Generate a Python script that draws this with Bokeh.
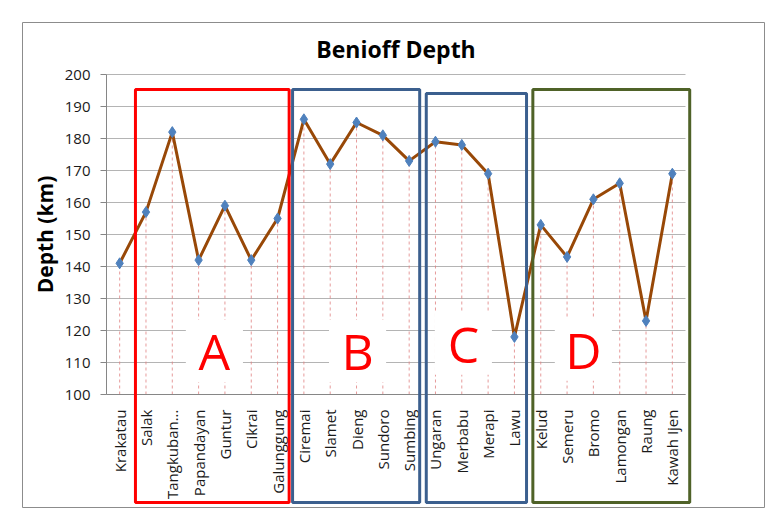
from bokeh.plotting import figure
from bokeh.models import (Range1d, FixedTicker, BoxAnnotation, ColumnDataSource,
                          LinearAxis, Label)
from bokeh.core.properties import value
from bokeh.embed import file_html
from bokeh.resources import INLINE
import math

# ---- data ----
volcanoes = ["Krakatau", "Salak", "Tangkuban...", "Papandayan", "Guntur", "Cikrai",
             "Galunggung", "Ciremai", "Slamet", "Dieng", "Sundoro", "Sumbing",
             "Ungaran", "Merbabu", "Merapi", "Lawu", "Kelud", "Semeru", "Bromo",
             "Lamongan", "Raung", "Kawah Ijen"]
depth_km = [141, 157, 182, 142, 159, 142, 155, 186, 172, 185, 181, 173,
            179, 178, 169, 118, 153, 143, 161, 166, 123, 169]
y_ticks = [100, 110, 120, 130, 140, 150, 160, 170, 180, 190, 200]

group_labels = ["A", "B", "C", "D"]
group_first = ["Salak", "Ciremai", "Ungaran", "Kelud"]
group_last = ["Galunggung", "Sumbing", "Lawu", "Kawah Ijen"]

# ---- layout / style constants ----
FONT = "Open Sans"
W, H = 780, 526
CHART_L, CHART_T, CHART_R, CHART_B = 22, 22, 764, 507      # outer chart border (px)
PLOT_L, PLOT_T, PLOT_R, PLOT_B = 106, 74, 685, 394          # plot area (px)
n = len(volcanoes)
ymin, ymax = y_ticks[0], y_ticks[-1]
px_per_cat = (PLOT_R - PLOT_L) / n
px_per_unit = (PLOT_B - PLOT_T) / (ymax - ymin)

x_start = -0.5 - (PLOT_L - CHART_L) / px_per_cat
x_end = -0.5 + (CHART_R - PLOT_L) / px_per_cat
y_top = ymax + (PLOT_T - CHART_T) / px_per_unit
y_bot = ymax - (CHART_B - PLOT_T) / px_per_unit


def py_to_y(py):
    return ymax - (py - PLOT_T) / px_per_unit


box_colors = ["#ff0000", "#3b5f8e", "#3b5f8e", "#4f6228"]
box_pad_left = [0.10, 0.07, 0.15, 0.20]
box_pad_right = [-0.06, -0.10, -0.04, 0.16]
box_top_px = [89, 89, 93, 89]
box_bottom_px = 502
letter_x = [3.60, 9.04, 13.06, 17.62]
letter_y = [113.6, 113.6, 115.9, 114.0]

xpos = list(range(n))

p = figure(width=W, height=H,
           x_range=Range1d(x_start, x_end), y_range=Range1d(y_bot, y_top),
           x_axis_location=None, y_axis_location=None,
           output_backend="svg", toolbar_location=None,
           min_border_left=CHART_L, min_border_right=W - CHART_R,
           min_border_top=CHART_T, min_border_bottom=H - CHART_B)
p.background_fill_color = "white"
p.border_fill_color = "white"
p.outline_line_color = "#8c8c8c"
p.outline_line_width = 1
p.xgrid.visible = False
p.ygrid.visible = False

# title
p.add_layout(Label(x=(n - 1) / 2, y=py_to_y(48), text="Benioff Depth",
                   text_font=FONT, text_font_size="23px", text_font_style="bold",
                   text_color="#000000", text_align="center", text_baseline="middle"))

# y axis
ya = LinearAxis(fixed_location=-0.5, bounds=(ymin, ymax))
ya.ticker = FixedTicker(ticks=y_ticks)
ya.axis_label = "Depth (km)"
ya.axis_label_text_font = FONT
ya.axis_label_text_font_style = "bold"
ya.axis_label_text_font_size = "21px"
ya.axis_label_text_color = "#000000"
ya.axis_label_standoff = 3
ya.major_label_text_font = FONT
ya.major_label_text_font_size = "15px"
ya.major_label_text_color = "#1a1a1a"
ya.major_label_standoff = 10
ya.major_tick_out = 6
ya.major_tick_in = 0
ya.minor_tick_out = 0
ya.minor_tick_in = 0
ya.axis_line_color = "#868686"
ya.major_tick_line_color = "#868686"
p.add_layout(ya, "left")

# x axis (categories)
xa = LinearAxis(fixed_location=ymin, bounds=(-0.5, n - 0.5))
xa.ticker = FixedTicker(ticks=xpos)
xa.major_label_overrides = {i: name for i, name in enumerate(volcanoes)}
xa.major_label_orientation = math.pi / 2
xa.major_label_text_font = FONT
xa.major_label_text_font_size = "15px"
xa.major_label_text_color = "#1a1a1a"
xa.major_label_standoff = 15
xa.major_tick_out = 0
xa.major_tick_in = 0
xa.minor_tick_out = 0
xa.minor_tick_in = 0
xa.axis_line_color = "#868686"
p.add_layout(xa, "below")

# horizontal gridlines
p.segment(x0=[-0.5] * len(y_ticks), y0=y_ticks, x1=[n - 0.5] * len(y_ticks), y1=y_ticks,
          line_color="#b4b4b4", line_width=1)

src = ColumnDataSource(dict(x=xpos, name=volcanoes, depth=depth_km, base=[ymin] * n))

# drop lines
p.segment(x0="x", y0="base", x1="x", y1="depth", source=src,
          line_color="#e08080", line_width=0.8, line_dash="3 3")

# white backgrounds behind the letters
bw, bh = 2.17, 19.4
p.quad(left=[x - bw / 2 for x in letter_x], right=[x + bw / 2 for x in letter_x],
       bottom=[y - bh / 2 for y in letter_y], top=[y + bh / 2 for y in letter_y],
       fill_color="white", line_color=None)

# data line and markers
p.line(x="x", y="depth", source=src, line_color="#984807", line_width=3)
p.scatter(x="x", y="depth", source=src, marker="diamond", size=11,
          fill_color="#4f81bd", line_color="#4f81bd")

# group letters
p.text(x=letter_x, y=letter_y, text=group_labels, text_color="#ff0000",
       text_font=value(FONT), text_font_size="50px",
       text_align="center", text_baseline="middle")

# group boxes (extend below the plot area onto the category labels)
for i, g in enumerate(group_labels):
    i0 = volcanoes.index(group_first[i])
    i1 = volcanoes.index(group_last[i])
    p.add_layout(BoxAnnotation(left=i0 - 0.5 + box_pad_left[i],
                               right=i1 + 0.5 + box_pad_right[i],
                               top=py_to_y(box_top_px[i]), bottom=py_to_y(box_bottom_px),
                               fill_color=None, fill_alpha=0,
                               line_color=box_colors[i], line_alpha=1.0, line_width=3))

open("out.html", "w").write(file_html(p, INLINE))
